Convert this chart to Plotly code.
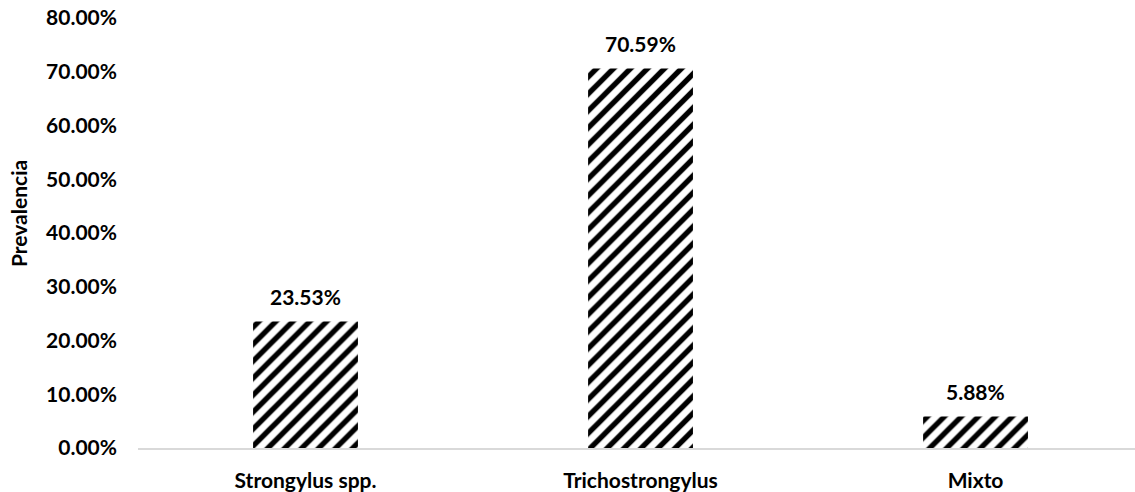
import plotly.graph_objects as go

categories = ["Strongylus spp.", "Trichostrongylus", "Mixto"]
prevalence = [0.2353, 0.7059, 0.0588]
y_ticks = [0.0, 0.1, 0.2, 0.3, 0.4, 0.5, 0.6, 0.7, 0.8]
y_title = "Prevalencia"

FONT = "Lato"
fig = go.Figure()
fig.add_trace(go.Bar(
    x=categories, y=prevalence,
    marker=dict(color="white", line=dict(width=0),
                pattern=dict(shape="/", fgcolor="black", bgcolor="white", fgopacity=1,
                             size=12, solidity=0.45, fillmode="replace")),
    hoverinfo="skip",
))
for c, v in zip(categories, prevalence):
    fig.add_annotation(x=c, y=v, text=f"{v*100:.2f}%", showarrow=False,
                       yshift=25, font=dict(family=FONT, size=21, color="black", weight=700))

fig.update_layout(
    width=1135, height=492,
    margin=dict(l=138, r=0, t=18, b=44),
    plot_bgcolor="white", paper_bgcolor="white",
    bargap=0.687, showlegend=False,
    xaxis=dict(range=[-0.5, 2.476], showline=True, linecolor="#d9d9d9", linewidth=1.5,
               showgrid=False, ticks="", ticklabelstandoff=13,
               tickfont=dict(family=FONT, size=21, color="black", weight=700)),
    yaxis=dict(range=[0, 0.8], tickvals=y_ticks, tickformat=".2%", showgrid=False,
               zeroline=False, showline=False, ticks="", ticklabelstandoff=20,
               tickfont=dict(family=FONT, size=21, color="black", weight=700)),
    annotations=list(fig.layout.annotations) + [dict(
        text=y_title, textangle=-90, xref="paper", yref="paper",
        x=-0.12, y=0.545, xanchor="center", yanchor="middle", showarrow=False,
        font=dict(family=FONT, size=21, color="black", weight=700))],
)
fig.write_html("out.html", config={"displayModeBar": False},
               post_script="document.body.style.margin='0';document.body.style.padding='0';")
